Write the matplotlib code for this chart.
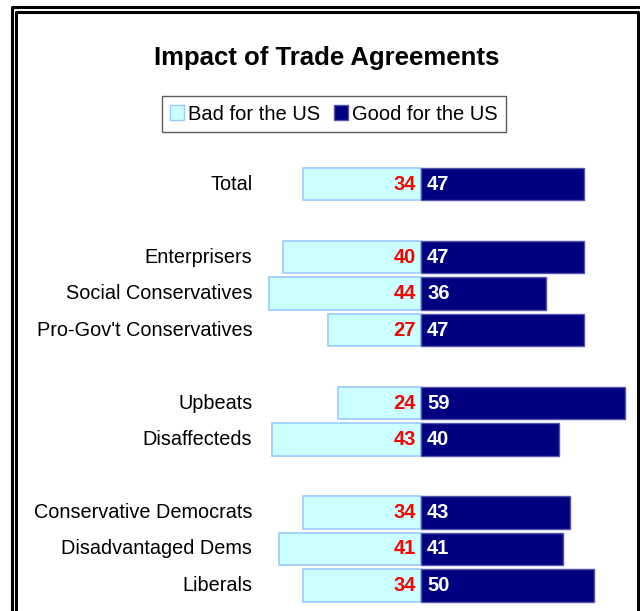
import matplotlib
matplotlib.use("Agg")
import matplotlib.pyplot as plt
from matplotlib.lines import Line2D
from matplotlib.patches import Patch

categories = ["Total", "", "Enterprisers", "Social Conservatives", "Pro-Gov't Conservatives", "",
              "Upbeats", "Disaffecteds", "", "Conservative Democrats", "Disadvantaged Dems", "Liberals"]
bad = [34, None, 40, 44, 27, None, 24, 43, None, 34, 41, 34]
good = [47, None, 47, 36, 47, None, 59, 40, None, 43, 41, 50]

W, H = 640, 611
fig = plt.figure(figsize=(W / 100, H / 100), dpi=100)
plt.rcParams['font.family'] = ['Liberation Sans', 'DejaVu Sans']

# axes placement in pixels
zero_px = 421
scale = 3.46
ax_l, ax_r = 262, 635
ax_top, ax_bot = 150, 611
slot0, step = 184, 36.5
ax = fig.add_axes([ax_l / W, 1 - ax_bot / H, (ax_r - ax_l) / W, (ax_bot - ax_top) / H])
ax.set_xlim((ax_l - zero_px) / scale, (ax_r - zero_px) / scale)
ax.set_ylim((ax_bot - slot0) / step, (ax_top - slot0) / step)

bad_fc, bad_ec = '#CCFFFF', '#99CCFF'
good_fc, good_ec = '#000080', '#5555AA'

ys = [i for i, c in enumerate(categories) if c]
for i in ys:
    ax.barh(i, -bad[i], height=0.88, color=bad_fc, edgecolor=bad_ec, linewidth=1.2)
    ax.barh(i, good[i], height=0.88, color=good_fc, edgecolor=good_ec, linewidth=1.0)
    ax.text(-1.5, i, str(bad[i]), color='#FF0000', fontweight='bold', fontsize=14.5,
            ha='right', va='center')
    ax.text(1.8, i, str(good[i]), color='white', fontweight='bold', fontsize=14.5,
            ha='left', va='center')

ax.set_yticks(ys)
ax.set_yticklabels([categories[i] for i in ys], fontsize=14.3, va='center')
ax.tick_params(axis='y', length=0, pad=7)
ax.set_xticks([])
for s in ax.spines.values():
    s.set_visible(False)
ax.patch.set_visible(False)

fig.text(327 / W, 1 - 58 / H, "Impact of Trade Agreements", ha='center', va='center',
         fontsize=18.5, fontweight='bold')

handles = [Patch(facecolor=bad_fc, edgecolor=bad_ec, label='Bad for the US'),
           Patch(facecolor=good_fc, edgecolor=good_ec, label='Good for the US')]
leg = fig.legend(handles=handles, loc='center', bbox_to_anchor=(334 / W, 1 - 114 / H),
                 ncol=2, frameon=True, fancybox=False, fontsize=14.5,
                 handlelength=0.7, handleheight=0.7, handletextpad=0.2, columnspacing=0.7,
                 borderpad=0.4, borderaxespad=0)
leg.get_frame().set_edgecolor('#333333')
leg.get_frame().set_linewidth(1.0)

# double frame around figure
def fline(xs, ys_):
    fig.add_artist(Line2D([x / W for x in xs], [1 - y / H for y in ys_], color='black',
                          linewidth=2.2, solid_capstyle='projecting'))

fline([12.4, 12.4, 645], [620, 6.5, 6.5])
fline([16.4, 16.4, 637.6, 637.6], [620, 12.4, 12.4, 620])

fig.savefig("out.png", dpi=100)
